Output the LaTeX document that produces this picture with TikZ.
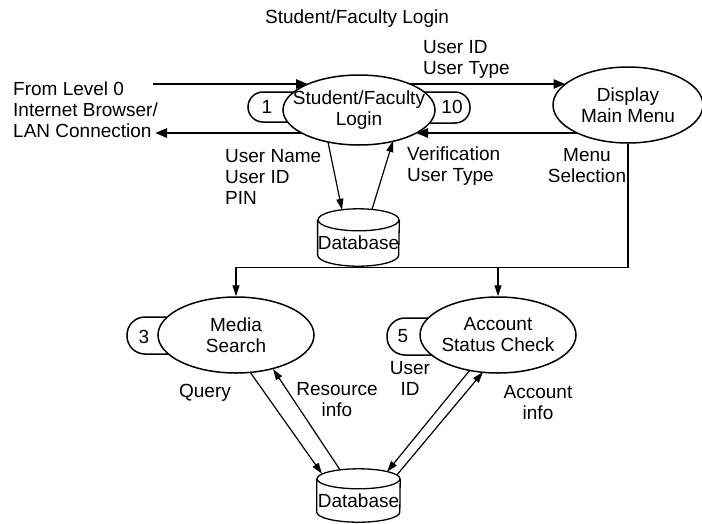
\documentclass[tikz,border=0pt]{standalone}
\usepackage{fontspec}
\setmainfont{Liberation Sans}
\usetikzlibrary{shapes.geometric,arrows.meta,calc}
\begin{document}
\begin{tikzpicture}[x=1pt,y=-1pt,
  font=\fontsize{19}{21}\selectfont,
  proc/.style={ellipse, draw, line width=1.5pt, fill=white, inner sep=0pt},
  bubble/.style={rectangle, draw, line width=1.5pt, fill=white, inner sep=0pt},
  lbl/.style={inner sep=0pt, align=left},
  clbl/.style={inner sep=0pt, align=center},
  dbbox/.style={rectangle, inner sep=0pt, minimum width=81pt},
  dbline/.style={line width=1.3pt},
  bigflow/.style={line width=2.6pt, -{Triangle[length=12pt,width=9pt]}},
  flow/.style={line width=1.2pt, -{Triangle[length=11pt,width=7pt]}}]
\useasboundingbox (0,0) rectangle (702,523);

% title
\node[clbl] (title) at (357,19) {Student/Faculty Login};

% bubbles (behind the processes)
\node[bubble, rounded corners=15pt, minimum width=62pt, minimum height=30pt] (b1) at (279,107) {};
\node[bubble, rounded corners=15pt, minimum width=62pt, minimum height=31pt] (b10) at (439,107.5) {};
\node[bubble, rounded corners=18pt, minimum width=63pt, minimum height=37pt] (b3) at (158.5,335.5) {};
\node[bubble, rounded corners=18pt, minimum width=63pt, minimum height=37pt] (b5) at (418.5,336.5) {};

% processes
\node[proc, minimum width=152pt, minimum height=70pt,
  label={[clbl]center:Student/Faculty\\Login}] (login) at (359,110) {};
\node[proc, minimum width=150pt, minimum height=76pt,
  label={[clbl]center:Display\\Main Menu}] (disp) at (628,105) {};
\node[proc, minimum width=156pt, minimum height=76pt,
  label={[clbl]center:Media\\Search}] (media) at (236,335) {};
\node[proc, minimum width=156pt, minimum height=76pt,
  label={[clbl]center:Account\\Status Check}] (acct) at (498,335) {};

% bubble numbers
\node[clbl] (n1) at (267,107) {1};
\node[clbl] (n10) at (452,107) {10};
\node[clbl] (n3) at (144,337) {3};
\node[clbl] (n5) at (403,336) {5};

% databases
\node[dbbox, minimum height=46pt] (db1) at (358.5,243) {Database};
\draw[dbline] (db1.north) ellipse [x radius=40.5, y radius=11];
\draw[dbline] (db1.north west) -- ($(db1.south west)+(0,-11)$)
  arc[start angle=180, end angle=0, x radius=40.5, y radius=11] -- (db1.north east);

\node[dbbox, minimum width=83pt, minimum height=43pt] (db2) at (358.5,500.5) {Database};
\draw[dbline] (db2.north) ellipse [x radius=41.5, y radius=10];
\draw[dbline] (db2.north west) -- ($(db2.south west)+(0,-10)$)
  arc[start angle=180, end angle=0, x radius=41.5, y radius=10] -- (db2.north east);

% labels
\node[lbl, anchor=west] (lfrom) at (13,110) {From Level 0\\Internet Browser/\\LAN Connection};
\node[lbl, anchor=west] (luid) at (423,59.5) {User ID\\User Type};
\node[lbl, anchor=west] (lname) at (225,177) {User Name\\User ID\\PIN};
\node[lbl, anchor=west] (lver) at (407,166) {Verification\\User Type};
\node[clbl] (lmenu) at (587,166) {Menu\\Selection};
\node[clbl] (lquery) at (205,393) {Query};
\node[clbl] (lres) at (337,400) {Resource\\info};
\node[clbl] (luserid) at (410,378) {User\\ID};
\node[clbl] (lacc) at (538,403) {Account\\info};

% external flows
\coordinate (srcL) at (153,84);
\coordinate (dstL) at (155,133);
\draw[bigflow] (srcL) -- ($(login.center)+(-51,-26)$);
\draw[bigflow] ($(login.center)+(-57,23)$) -- (dstL);
\draw[bigflow] ($(login.center)+(51,-26)$) -- ($(disp.center)+(-62.5,-21)$);
\draw[bigflow] ($(disp.center)+(-50.7,28)$) -- ($(login.center)+(57,23)$);

% login <-> database
\draw[flow] ($(login.center)+(-31,32)$) -- ($(db1.north)+(-16.5,-10)$);
\draw[flow] ($(db1.north)+(13.5,-10.4)$) -- ($(login.center)+(34,31)$);

% menu selection
\draw[flow] (disp.south) |- ($(media.north)+(0,-29)$) -- (media.north);
\draw[flow] ($(acct.north)+(0,-29)$) -- (acct.north);

% lower database flows
\draw[flow] ($(media.center)+(14,37)$) -- ($(db2.north)+(-36.5,-5)$);
\draw[flow] ($(db2.north)+(-18.5,-9)$) -- ($(media.center)+(37,34)$);
\draw[flow] ($(acct.center)+(-28,35)$) -- ($(db2.north)+(28.5,-7)$);
\draw[flow] ($(db2.north)+(38.5,-4)$) -- ($(acct.center)+(-15,37)$);
\end{tikzpicture}
\end{document}
